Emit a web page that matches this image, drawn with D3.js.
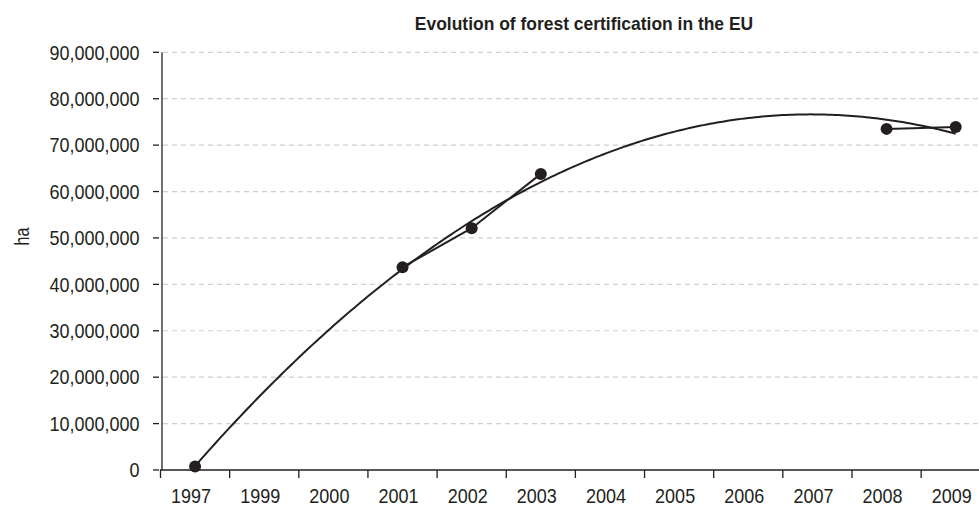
<!DOCTYPE html>
<html><head><meta charset="utf-8">
<script src="https://cdn.jsdelivr.net/npm/d3@7"></script>
<style>
html,body{margin:0;padding:0;background:#fff;}
svg{display:block;}
text{font-family:"Liberation Sans",Arial,Helvetica,sans-serif;fill:#231f20;}
</style></head>
<body>
<svg id="c" width="979" height="507"></svg>
<script>
const title = "Evolution of forest certification in the EU";
const yLabel = "ha";
const categories = ["1997","1999","2000","2001","2002","2003","2004","2005","2006","2007","2008","2009"];
const values = [750000, null, null, 43700000, 52100000, 63800000, null, null, null, null, 73500000, 73900000];
const yTicks = [0,10000000,20000000,30000000,40000000,50000000,60000000,70000000,80000000,90000000];

const W = 979, H = 507;
const svg = d3.select("#c");
const x = d3.scaleBand().domain(categories).range([160.5, 990.3]).padding(0);
const y = d3.scaleLinear().domain([0, 90000000]).range([470, 52.3]);
const cx = c => x(c) + x.bandwidth()/2;
const fmt = d3.format(",");
const SX = 0.9; // condensed look

// gridlines
svg.append("g").selectAll("line").data(yTicks.filter(d=>d>0)).join("line")
  .attr("x1",163).attr("x2",W).attr("y1",d=>y(d)).attr("y2",d=>y(d))
  .attr("stroke","#cfcfcf").attr("stroke-width",1.2).attr("stroke-dasharray","5,4");

// y ticks
svg.append("g").selectAll("line").data(yTicks).join("line")
  .attr("x1",153).attr("x2",159).attr("y1",d=>y(d)).attr("y2",d=>y(d))
  .attr("stroke","#231f20").attr("stroke-width",1.3);
svg.append("g").selectAll("text").data(yTicks).join("text")
  .attr("transform",d=>`translate(139.5,${y(d)}) scale(${SX},1)`)
  .attr("dy","0.36em").attr("text-anchor","end")
  .style("font-size","20px")
  .text(d=>fmt(d));

// axes lines
svg.append("line").attr("x1",162).attr("x2",162).attr("y1",y(90000000)).attr("y2",470)
  .attr("stroke","#231f20").attr("stroke-width",1.3);
svg.append("line").attr("x1",160).attr("x2",W).attr("y1",470).attr("y2",470)
  .attr("stroke","#231f20").attr("stroke-width",1.5);

// x ticks at band boundaries
svg.append("g").selectAll("line").data(categories).join("line")
  .attr("x1",d=>x(d)).attr("x2",d=>x(d)).attr("y1",470).attr("y2",478)
  .attr("stroke","#231f20").attr("stroke-width",1.3);
svg.append("g").selectAll("text").data(categories).join("text")
  .attr("transform",d=>`translate(${cx(d)-4},503) scale(${SX},1)`)
  .attr("text-anchor","middle")
  .style("font-size","20px")
  .text(d=>d);

// title & y label
svg.append("text").attr("transform","translate(584,30) scale(0.97,1)").attr("text-anchor","middle")
  .style("font-size","18px").style("font-weight","bold").text(title);
svg.append("text").attr("transform","translate(28.5,236.5) rotate(-90) scale(0.8,1)").attr("text-anchor","middle")
  .style("font-size","20px").text(yLabel);

// polynomial (order 2) trendline, least squares on category positions 1..n
const pts = values.map((v,i)=>({i:i+1,v})).filter(d=>d.v!=null);
function fit2(p){
  let S=[0,0,0,0,0], T=[0,0,0];
  p.forEach(d=>{let xp=1; for(let k=0;k<5;k++){S[k]+=xp; if(k<3) T[k]+=xp*d.v; xp*=d.i;}});
  const M=[[S[0],S[1],S[2],T[0]],[S[1],S[2],S[3],T[1]],[S[2],S[3],S[4],T[2]]];
  for(let c=0;c<3;c++){for(let r=c+1;r<3;r++){const f=M[r][c]/M[c][c];for(let k=c;k<4;k++)M[r][k]-=f*M[c][k];}}
  const s=[0,0,0];
  for(let r=2;r>=0;r--){let t=M[r][3];for(let k=r+1;k<3;k++)t-=M[r][k]*s[k];s[r]=t/M[r][r];}
  return s;
}
const co = fit2(pts);
const posToX = p => x(categories[0]) + (p-0.5)*x.bandwidth();
const trend = d3.range(1, categories.length+0.001, 0.05).map(p=>[posToX(p), y(co[0]+co[1]*p+co[2]*p*p)]);
svg.append("path").attr("d", d3.line()(trend))
  .attr("fill","none").attr("stroke","#231f20").attr("stroke-width",2);

// data line
const data = categories.map((c,i)=>({c,v:values[i]}));
svg.append("path").datum(data)
  .attr("d", d3.line().defined(d=>d.v!=null).x(d=>cx(d.c)).y(d=>y(d.v)))
  .attr("fill","none").attr("stroke","#231f20").attr("stroke-width",2);
svg.append("g").selectAll("circle").data(data.filter(d=>d.v!=null)).join("circle")
  .attr("cx",d=>cx(d.c)).attr("cy",d=>y(d.v)).attr("r",6).attr("fill","#231f20");
</script>
</body></html>
